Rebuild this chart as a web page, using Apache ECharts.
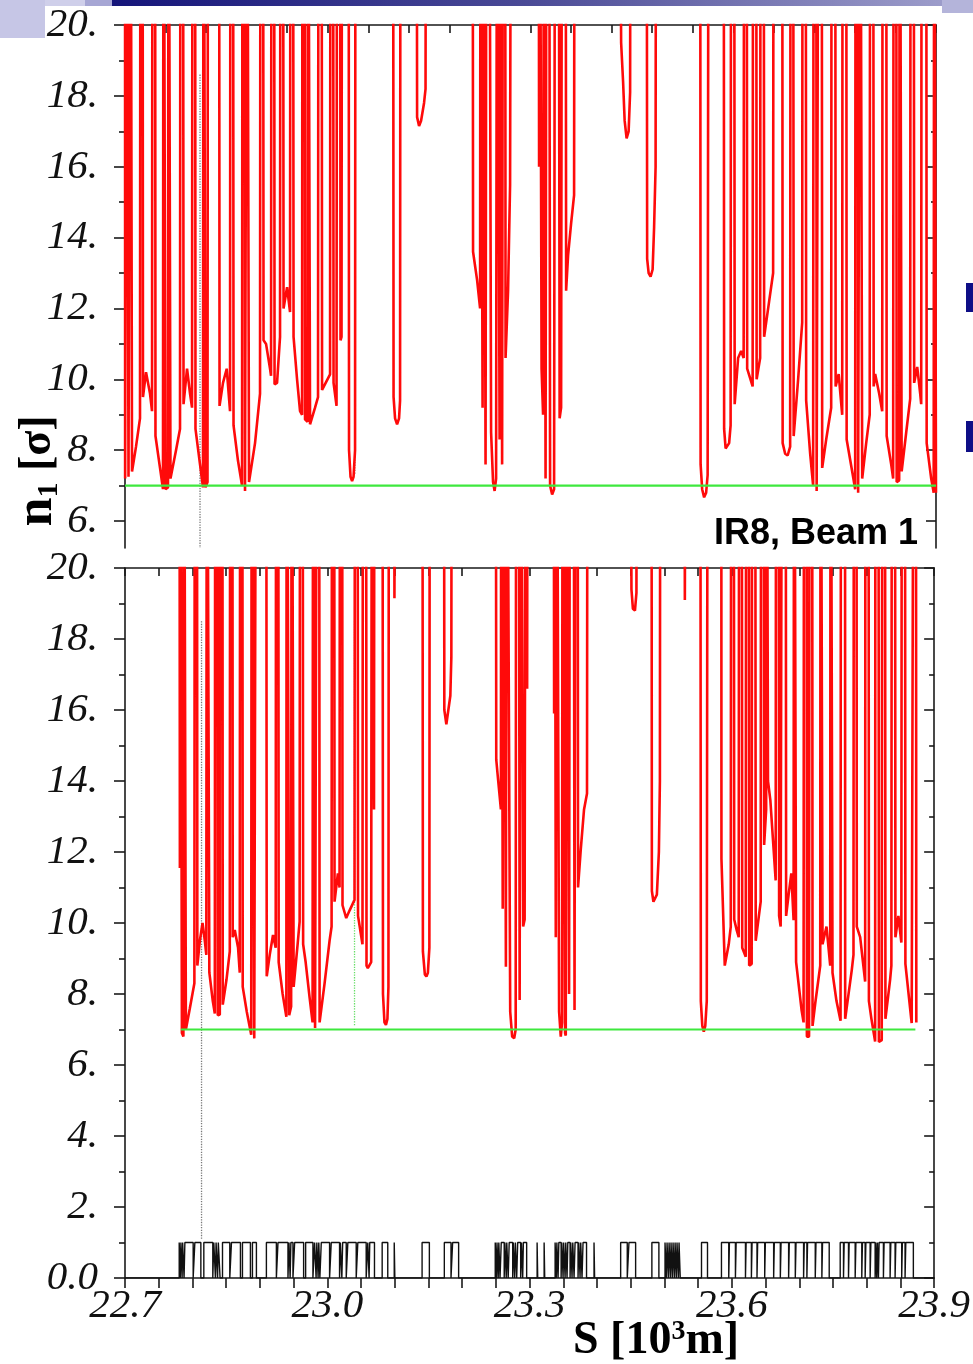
<!DOCTYPE html>
<html>
<head>
<meta charset="utf-8">
<script src="https://cdn.jsdelivr.net/npm/echarts@6/dist/echarts.min.js"></script>
<style>
  html, body { margin: 0; padding: 0; background: #fff; }
  #chart { width: 973px; height: 1364px; }
</style>
</head>
<body>
<div id="chart"></div>
<script>
// n1 aperture along S [10^3 m], values in sigma; 30 = off the top of the plot
const apertureTop = [
  [22.7000,30],[22.7002,7.2],[22.7015,7.2],[22.7022,30],[22.7044,30],[22.7052,7.25],[22.7074,7.3],[22.7081,30],[22.7096,30],[22.7104,7.4],
  [22.7163,8.1],[22.7222,8.9],[22.7229,30],[22.7259,30],[22.7266,9.5],[22.7311,10.2],[22.7370,9.6],[22.7400,9.1],[22.7407,30],[22.7444,30],
  [22.7451,8.4],[22.7518,7.5],[22.7562,6.9],[22.7570,30],[22.7592,30],[22.7599,6.9],[22.7636,6.95],[22.7644,30],[22.7666,30],[22.7673,7.2],
  [22.7755,8.0],[22.7814,8.6],[22.7821,30],[22.7858,30],[22.7866,9.3],[22.7918,10.3],[22.7962,9.6],[22.7992,9.2],[22.7999,30],[22.8036,30],
  [22.8043,8.6],[22.8110,7.6],[22.8154,6.95],[22.8162,30],[22.8184,30],[22.8191,6.95],[22.8221,7.1],[22.8228,30],[22.8391,30],[22.8399,9.25],
  [22.8450,9.9],[22.8505,10.3],[22.8554,9.1],[22.8561,30],[22.8598,30],[22.8606,8.7],[22.8672,7.7],[22.8732,7.0],[22.8739,30],[22.8769,30],
  [22.8776,6.85],[22.8798,6.9],[22.8806,30],[22.8828,30],[22.8835,7.1],[22.8924,8.2],[22.8998,9.6],[22.9005,30],[22.9042,30],[22.9050,11.1],
  [22.9087,11.0],[22.9146,10.3],[22.9161,10.1],[22.9168,30],[22.9205,30],[22.9213,9.86],[22.9250,9.9],[22.9294,11.2],[22.9301,30],[22.9338,30],
  [22.9346,12.0],[22.9398,12.6],[22.9442,11.9],[22.9449,30],[22.9486,30],[22.9494,11.2],[22.9546,10.0],[22.9590,9.1],[22.9620,9.0],[22.9627,30],
  [22.9657,30],[22.9664,8.87],[22.9701,8.8],[22.9708,30],[22.9731,30],[22.9738,8.73],[22.9812,9.2],[22.9856,9.5],[22.9864,30],[22.9908,30],
  [22.9916,9.7],[23.0034,10.14],[23.0041,30],[23.0078,30],[23.0086,9.9],[23.0130,9.25],[23.0138,30],[23.0182,30],[23.0189,11.1],[23.0204,11.2],
  [23.0212,30],
  [23.0308,30],[23.0315,8.0],[23.0337,7.25],[23.0360,7.13],[23.0382,7.25],[23.0404,8.0],[23.0411,30],
  [23.0966,30],[23.0974,9.5],[23.0996,8.9],[23.1026,8.73],[23.1055,8.9],[23.1070,9.4],[23.1077,30],
  [23.1314,30],[23.1322,17.4],[23.1351,17.15],[23.1381,17.3],[23.1425,17.8],[23.1447,18.2],[23.1455,30],
  [23.2143,30],[23.2150,13.6],[23.2210,12.8],[23.2254,12.0],[23.2261,30],[23.2284,30],[23.2291,9.2],[23.2306,30],[23.2321,30],[23.2335,7.6],
  [23.2350,30],[23.2387,30],[23.2417,8.5],[23.2446,7.1],[23.2469,6.85],[23.2491,7.2],[23.2506,30],[23.2535,30],[23.2543,8.3],[23.2557,30],
  [23.2572,30],[23.2580,7.6],[23.2594,30],[23.2624,30],[23.2631,10.6],[23.2668,12.5],[23.2698,15.5],[23.2713,30],
  [23.3120,30],[23.3127,16.0],[23.3135,30],[23.3157,30],[23.3164,10.3],[23.3186,9.0],[23.3201,30],[23.3216,30],[23.3223,7.2],[23.3238,30],
  [23.3275,30],[23.3290,7.0],[23.3320,6.75],[23.3349,6.9],[23.3364,30],[23.3416,30],[23.3431,8.9],[23.3453,9.2],[23.3468,30],[23.3519,30],
  [23.3527,12.5],[23.3556,13.5],[23.3601,14.4],[23.3645,15.2],[23.3653,30],
  [23.4311,30],[23.4341,19.5],[23.4370,18.4],[23.4393,17.3],[23.4422,16.8],[23.4452,17.0],[23.4474,18.1],[23.4481,30],
  [23.4718,30],[23.4726,13.4],[23.4748,13.0],[23.4777,12.9],[23.4807,13.1],[23.4829,14.3],[23.4851,16.0],[23.4859,30],
  [23.5510,30],[23.5517,7.6],[23.5540,6.9],[23.5569,6.67],[23.5599,6.8],[23.5621,7.3],[23.5636,30],
  [23.5858,30],[23.5865,8.6],[23.5887,8.05],[23.5910,8.0],[23.5939,8.2],[23.5961,8.7],[23.5969,30],[23.6013,30],[23.6021,9.3],[23.6072,10.6],
  [23.6117,10.8],[23.6154,10.6],[23.6161,30],[23.6198,30],[23.6206,10.3],[23.6287,9.8],[23.6294,30],[23.6339,30],[23.6346,10.0],[23.6398,10.6],
  [23.6405,30],[23.6450,30],[23.6457,11.2],[23.6531,12.2],[23.6590,13.0],[23.6598,30],[23.6724,30],[23.6731,8.2],[23.6768,7.9],[23.6805,7.85],
  [23.6842,8.1],[23.6849,30],[23.6886,30],[23.6894,8.4],[23.6960,10.0],[23.7020,11.6],[23.7027,30],[23.7071,30],[23.7079,9.4],[23.7138,7.9],
  [23.7182,7.0],[23.7190,30],[23.7227,30],[23.7234,6.85],[23.7256,6.9],[23.7264,30],[23.7308,30],[23.7316,7.5],[23.7375,8.3],[23.7449,9.2],
  [23.7456,30],[23.7508,30],[23.7515,9.8],[23.7560,10.15],[23.7612,9.0],[23.7619,30],[23.7671,30],[23.7678,8.3],[23.7760,7.4],[23.7804,6.9],
  [23.7811,30],[23.7841,30],[23.7848,6.8],[23.7871,6.85],[23.7878,30],[23.7900,30],[23.7908,7.2],[23.7967,8.2],[23.8019,9.0],[23.8026,30],
  [23.8070,30],[23.8078,9.8],[23.8100,10.15],[23.8159,9.6],[23.8204,9.1],[23.8211,30],[23.8263,30],[23.8270,8.4],[23.8337,7.6],[23.8366,7.2],
  [23.8374,30],[23.8411,30],[23.8418,7.1],[23.8455,7.15],[23.8463,30],[23.8485,30],[23.8492,7.4],[23.8559,8.5],[23.8618,9.45],[23.8625,30],
  [23.8670,30],[23.8677,9.9],[23.8722,10.35],[23.8766,9.6],[23.8781,9.3],[23.8788,30],[23.8855,30],[23.8862,8.2],[23.8929,7.2],[23.8966,6.8],
  [23.8973,30],[23.8995,30],[23.9000,6.8]
];

const apertureBottom = [
  [22.7807,30],[22.7814,11.55],[22.7821,30],[22.7836,30],[22.7844,6.9],[22.7866,6.8],[22.7873,30],[22.7895,30],[22.7903,7.0],[22.7962,7.6],
  [22.8029,8.3],[22.8036,30],[22.8066,30],[22.8073,8.8],[22.8110,9.5],[22.8150,10.0],[22.8184,9.5],[22.8206,9.1],[22.8214,30],[22.8243,30],
  [22.8251,8.6],[22.8302,7.8],[22.8332,7.45],[22.8339,30],[22.8369,30],[22.8376,7.4],[22.8406,7.42],[22.8413,30],[22.8443,30],[22.8450,7.7],
  [22.8505,8.4],[22.8554,9.2],[22.8561,30],[22.8591,30],[22.8598,9.6],[22.8628,9.8],[22.8677,9.3],[22.8702,8.6],[22.8709,30],[22.8739,30],
  [22.8746,8.2],[22.8806,7.5],[22.8872,6.85],[22.8880,30],[22.8909,30],[22.8917,6.75],[22.8939,6.8],[22.8946,30],[22.9094,30],[22.9102,8.5],
  [22.9146,9.1],[22.9195,9.66],[22.9235,9.3],[22.9242,30],[22.9272,30],[22.9279,8.9],[22.9338,8.0],[22.9393,7.36],[22.9398,30],[22.9427,30],
  [22.9435,7.4],[22.9464,7.65],[22.9472,30],[22.9494,30],[22.9501,8.2],[22.9560,9.4],[22.9590,10.04],[22.9597,30],[22.9634,30],[22.9642,9.4],
  [22.9679,8.9],[22.9738,7.9],[22.9782,7.2],[22.9790,30],[22.9812,30],[22.9819,7.04],[22.9842,7.05],[22.9849,30],[22.9879,30],[22.9886,7.2],
  [22.9960,8.3],[23.0034,9.5],[23.0064,9.9],[23.0071,30],[23.0101,30],[23.0108,10.6],[23.0157,11.4],[23.0182,11.0],[23.0189,30],[23.0219,30],
  [23.0226,10.5],[23.0281,10.14],[23.0330,10.35],[23.0404,10.65],[23.0411,30],[23.0448,30],[23.0456,10.2],[23.0522,9.4],[23.0530,30],[23.0574,30],
  [23.0582,8.8],[23.0601,8.73],[23.0651,8.9],[23.0663,30],[23.0685,30],[23.0693,13.2],[23.0700,30],
  [23.0818,30],[23.0826,8.0],[23.0848,7.2],[23.0870,7.13],[23.0892,7.3],[23.0907,8.2],[23.0915,30],
  [23.0989,30],[23.0996,19.15],[23.1011,30],
  [23.1410,30],[23.1418,9.2],[23.1447,8.55],[23.1470,8.49],[23.1492,8.6],[23.1514,9.3],[23.1521,30],
  [23.1729,30],[23.1736,16.0],[23.1766,15.6],[23.1795,15.65],[23.1825,16.4],[23.1840,17.5],[23.1847,30],
  [23.2498,30],[23.2506,14.6],[23.2535,14.0],[23.2575,13.2],[23.2580,30],[23.2594,30],[23.2602,10.4],[23.2617,30],[23.2639,30],[23.2649,8.77],
  [23.2661,30],[23.2683,30],[23.2713,7.5],[23.2742,6.8],[23.2772,6.75],[23.2794,7.0],[23.2802,30],[23.2839,30],[23.2853,7.83],[23.2868,30],
  [23.2890,30],[23.2905,9.9],[23.2927,10.1],[23.2942,30],[23.2957,30],[23.2964,16.6],[23.2972,30],
  [23.3357,30],[23.3364,15.9],[23.3371,30],[23.3379,30],[23.3389,9.6],[23.3401,30],[23.3423,30],[23.3438,7.5],[23.3463,6.8],[23.3482,7.2],
  [23.3490,30],[23.3512,30],[23.3527,6.9],[23.3537,6.83],[23.3549,30],[23.3571,30],[23.3586,8.0],[23.3601,30],[23.3653,30],[23.3667,7.55],
  [23.3682,30],[23.3712,30],[23.3719,11.0],[23.3759,12.06],[23.3808,13.2],[23.3852,13.65],[23.3860,30],
  [23.4496,30],[23.4511,19.4],[23.4533,18.85],[23.4563,18.8],[23.4585,19.3],[23.4592,30],
  [23.4807,30],[23.4814,10.9],[23.4837,10.6],[23.4859,10.55],[23.4888,10.8],[23.4918,12.0],[23.4933,14.0],[23.4940,30],
  [23.5295,30],[23.5303,19.1],[23.5318,30],
  [23.5532,30],[23.5540,7.8],[23.5562,7.1],[23.5584,6.94],[23.5606,7.1],[23.5628,7.8],[23.5643,30],
  [23.5843,30],[23.5846,11.8],[23.5895,8.8],[23.5954,9.4],[23.5984,9.9],[23.5991,30],[23.6028,30],[23.6035,10.1],[23.6072,9.8],[23.6102,9.6],
  [23.6109,30],[23.6146,30],[23.6154,9.3],[23.6206,9.05],[23.6213,30],[23.6250,30],[23.6257,8.8],[23.6275,8.77],[23.6294,8.85],[23.6302,30],
  [23.6346,30],[23.6354,9.5],[23.6428,10.6],[23.6435,30],[23.6472,30],[23.6479,12.2],[23.6509,13.2],[23.6516,30],[23.6531,30],[23.6536,14.0],
  [23.6571,13.46],[23.6620,12.06],[23.6650,11.2],[23.6657,30],[23.6694,30],[23.6701,10.2],[23.6724,9.9],[23.6738,9.9],[23.6746,30],[23.6798,30],
  [23.6805,10.2],[23.6842,10.8],[23.6882,11.4],[23.6916,10.08],[23.6923,30],[23.6946,30],[23.6953,8.9],[23.7034,7.55],[23.7064,7.2],[23.7071,30],
  [23.7108,30],[23.7113,6.8],[23.7145,6.8],[23.7153,30],[23.7190,30],[23.7197,7.1],[23.7237,7.74],[23.7311,8.8],[23.7316,30],[23.7338,30],
  [23.7345,9.4],[23.7404,9.9],[23.7459,8.8],[23.7464,30],[23.7486,30],[23.7493,8.6],[23.7552,7.8],[23.7612,7.25],[23.7619,30],[23.7678,30],
  [23.7681,7.3],[23.7779,8.68],[23.7804,9.1],[23.7811,30],[23.7848,30],[23.7853,9.9],[23.7903,9.6],[23.7977,8.35],[23.7982,30],[23.8026,30],
  [23.8033,7.8],[23.8070,7.3],[23.8125,6.66],[23.8130,30],[23.8174,30],[23.8181,6.65],[23.8223,6.7],[23.8233,30],[23.8270,30],[23.8278,7.3],
  [23.8347,8.4],[23.8366,8.8],[23.8374,30],[23.8418,30],[23.8426,9.6],[23.8470,10.2],[23.8514,9.45],[23.8522,30],[23.8566,30],[23.8574,8.85],
  [23.8667,7.18],[23.8692,7.2],[23.8699,30],[23.8729,30],[23.8736,7.2]
];

// magnet slots [start, end] shown as unit pulses along the bottom axis
const magnetSlots = [
  [22.7804,22.7820],[22.7829,22.7847],[22.7855,22.7876],[22.7888,22.8011],[22.8036,22.8125],[22.8169,22.8302],[22.8317,22.8341],
  [22.8351,22.8373],[22.8384,22.8410],[22.8446,22.8554],[22.8579,22.8712],[22.8742,22.8860],[22.8890,22.8949],
  [22.9097,22.9245],[22.9269,22.9417],[22.9432,22.9449],[22.9460,22.9491],[22.9516,22.9649],[22.9679,22.9787],[22.9812,22.9834],
  [22.9845,22.9864],[22.9874,22.9890],[22.9911,23.0034],[23.0059,23.0182],[23.0194,23.0216],[23.0228,23.0281],[23.0305,23.0429],
  [23.0453,23.0577],[23.0601,23.0620],[23.0630,23.0700],[23.0814,23.0897],[23.0993,23.1002],[23.1406,23.1514],[23.1736,23.1835],
  [23.1859,23.1948],
  [23.2491,23.2509],[23.2517,23.2535],[23.2544,23.2562],[23.2580,23.2624],[23.2634,23.2654],[23.2662,23.2683],[23.2698,23.2750],
  [23.2760,23.2779],[23.2790,23.2809],[23.2824,23.2868],[23.2880,23.2898],[23.2908,23.2957],[23.3112,23.3121],[23.3216,23.3225],
  [23.3379,23.3397],[23.3405,23.3423],[23.3434,23.3468],[23.3478,23.3497],[23.3506,23.3527],[23.3537,23.3556],[23.3567,23.3601],
  [23.3611,23.3630],[23.3641,23.3660],[23.3675,23.3719],[23.3730,23.3749],[23.3759,23.3778],[23.3793,23.3845],[23.3956,23.3965],
  [23.4351,23.4449],[23.4474,23.4573],[23.4814,23.4918],
  [23.5009,23.5030],[23.5039,23.5060],[23.5069,23.5090],[23.5098,23.5119],[23.5128,23.5149],[23.5158,23.5178],[23.5187,23.5208],
  [23.5217,23.5235],[23.5550,23.5639],
  [23.5846,23.5954],[23.5964,23.6053],[23.6064,23.6202],[23.6212,23.6290],[23.6300,23.6373],[23.6383,23.6487],[23.6497,23.6620],
  [23.6630,23.6719],[23.6730,23.6842],[23.6852,23.6941],[23.6952,23.7064],[23.7074,23.7113],[23.7123,23.7237],[23.7248,23.7335],
  [23.7345,23.7444],
  [23.7607,23.7656],[23.7666,23.7730],[23.7740,23.7829],[23.7840,23.7927],[23.7937,23.7977],[23.7988,23.8051],[23.8062,23.8125],
  [23.8134,23.8149],[23.8159,23.8174],[23.8184,23.8248],[23.8258,23.8347],[23.8358,23.8421],[23.8432,23.8519],[23.8529,23.8569],
  [23.8580,23.8692]
];

// 7 sigma limit lines
const limitTop = [[22.7, 7], [23.9, 7]];
const limitBottom = [[22.7829, 7], [23.8722, 7]];

// dotted guide lines
const guideGrayTop = [[22.8110, 18.6], [22.8110, 5.24]];
const guidePinkTop = [[23.0404, 18.6], [23.0404, 7.3]];
const guideGrayBottom = [[22.8135, 18.5], [22.8135, 1.1]];
const guidePinkBottom = [[23.0404, 18.5], [23.0404, 10.7]];
const guideGreenBottom = [[23.0404, 10.6], [23.0404, 7.1]];

// tick labels
const xLabels = [22.7, 23.0, 23.3, 23.6, 23.9];
const yLabelsTop = [6, 8, 10, 12, 14, 16, 18, 20];
const yLabelsBottom = [0, 2, 4, 6, 8, 10, 12, 14, 16, 18, 20];
const topPanelXTicks = [22.70, 22.76, 22.82, 22.88, 22.94, 23.00, 23.06, 23.12, 23.18, 23.24, 23.30,
  23.36, 23.42, 23.48, 23.54, 23.60, 23.66, 23.72, 23.78, 23.84, 23.90];

function steps(a, b, d) {
  let out = [];
  for (let v = a; v <= b + 1e-9; v += d) out.push(Math.round(v * 1000) / 1000);
  return out;
}
const bottomXTicks = steps(22.7, 23.9, 0.05);
const oddTop = steps(7, 19, 2);
const oddBottom = steps(1, 19, 2);

let magnetLine = [[22.7, 0]];
magnetSlots.forEach(function (m) {
  magnetLine.push([m[0], 0], [m[0], 1], [m[1], 1], [m[1], 0]);
});
magnetLine.push([23.9, 0]);

const ink = '#1a1a1a';
const labelStyle = {
  fontFamily: 'Liberation Serif', fontStyle: 'italic', fontSize: 41, color: '#111'
};

function fmtY(v) {
  return v === 0 ? '0.0' : v + '.';
}

// four y axes per panel: left major/minor, right major/minor
function yAxesFor(grid, min, labels, odd) {
  return [
    {
      gridIndex: grid, type: 'value', position: 'left', min: min, max: 20,
      axisLine: { show: true, lineStyle: { color: ink, width: 1.6 } },
      axisTick: { show: true, customValues: labels, length: 11, lineStyle: { color: ink, width: 1.6 } },
      axisLabel: Object.assign({ customValues: labels, margin: 27, formatter: fmtY }, labelStyle),
      splitLine: { show: false }
    },
    {
      gridIndex: grid, type: 'value', position: 'left', min: min, max: 20,
      axisLine: { show: false },
      axisTick: { show: true, customValues: odd, length: 6, lineStyle: { color: ink, width: 1.6 } },
      axisLabel: { show: false }, splitLine: { show: false }
    },
    {
      gridIndex: grid, type: 'value', position: 'right', min: min, max: 20,
      axisLine: { show: true, lineStyle: { color: ink, width: 1.6 } },
      axisTick: { show: true, inside: true, customValues: labels, length: 10, lineStyle: { color: ink, width: 1.6 } },
      axisLabel: { show: false }, splitLine: { show: false }
    },
    {
      gridIndex: grid, type: 'value', position: 'right', min: min, max: 20,
      axisLine: { show: false },
      axisTick: { show: true, inside: true, customValues: odd, length: 5, lineStyle: { color: ink, width: 1.6 } },
      axisLabel: { show: false }, splitLine: { show: false }
    }
  ];
}

function lineSeries(data, xi, yi, color, width, extra) {
  return Object.assign({
    type: 'line', data: data, xAxisIndex: xi, yAxisIndex: yi,
    showSymbol: false, symbol: 'none', clip: true, silent: true,
    lineStyle: { color: color, width: width }
  }, extra || {});
}

const chart = echarts.init(document.getElementById('chart'), null, { renderer: 'canvas' });

chart.setOption({
  animation: false,
  backgroundColor: '#ffffff',
  grid: [
    { left: 125, width: 811, top: 25, height: 523 },
    { left: 125, width: 811, top: 568, height: 710 }
  ],
  xAxis: [
    {
      gridIndex: 0, type: 'value', position: 'top', min: 22.7, max: 23.9,
      axisLine: { show: true, lineStyle: { color: ink, width: 1.6 } },
      axisTick: { show: true, inside: true, customValues: topPanelXTicks, length: 8, lineStyle: { color: ink, width: 1.6 } },
      axisLabel: { show: false }, splitLine: { show: false }
    },
    {
      gridIndex: 1, type: 'value', position: 'bottom', min: 22.7, max: 23.9,
      axisLine: { show: true, onZero: false, lineStyle: { color: ink, width: 1.6 } },
      axisTick: { show: true, customValues: bottomXTicks, length: 10, lineStyle: { color: ink, width: 1.6 } },
      axisLabel: Object.assign({
        customValues: xLabels, margin: 8,
        formatter: function (v) { return v.toFixed(1); }
      }, labelStyle),
      splitLine: { show: false }
    },
    {
      gridIndex: 1, type: 'value', position: 'top', min: 22.7, max: 23.9,
      axisLine: { show: true, onZero: false, lineStyle: { color: ink, width: 1.6 } },
      axisTick: { show: true, inside: true, customValues: bottomXTicks, length: 8, lineStyle: { color: ink, width: 1.6 } },
      axisLabel: { show: false }, splitLine: { show: false }
    }
  ],
  yAxis: yAxesFor(0, 5.24, yLabelsTop, oddTop).concat(yAxesFor(1, 0, yLabelsBottom, oddBottom)),
  series: [
    lineSeries(guideGrayTop, 0, 0, '#7a7a7a', 1.3, { lineStyle: { color: '#7a7a7a', width: 1.3, type: 'dotted' } }),
    lineSeries(guidePinkTop, 0, 0, '#d88a8a', 1.3, { lineStyle: { color: '#d88a8a', width: 1.3, type: 'dotted' } }),
    lineSeries(apertureTop, 0, 0, '#ff0a0a', 2.6),
    lineSeries(limitTop, 0, 0, '#3ee83e', 2.2),
    lineSeries(guideGrayBottom, 1, 4, '#7a7a7a', 1.3, { lineStyle: { color: '#7a7a7a', width: 1.3, type: 'dotted' } }),
    lineSeries(guidePinkBottom, 1, 4, '#c8a0a0', 1.3, { lineStyle: { color: '#c8a0a0', width: 1.3, type: 'dotted' } }),
    lineSeries(guideGreenBottom, 1, 4, '#66dd66', 1.3, { lineStyle: { color: '#66dd66', width: 1.3, type: 'dotted' } }),
    lineSeries(apertureBottom, 1, 4, '#ff0a0a', 2.6),
    lineSeries(limitBottom, 1, 4, '#3ee83e', 2.2),
    lineSeries(magnetLine, 1, 4, '#111111', 1.4)
  ],
  graphic: [
    // slide frame decoration
    { type: 'rect', shape: { x: 0, y: 0, width: 45, height: 38 }, style: { fill: '#c6c6e6' }, silent: true },
    { type: 'rect', shape: { x: 45, y: 0, width: 40, height: 6 }, style: { fill: '#cfcfea' }, silent: true },
    { type: 'rect', shape: { x: 85, y: 0, width: 27, height: 6 }, style: { fill: '#a6a6d4' }, silent: true },
    {
      type: 'rect', shape: { x: 112, y: 0, width: 830, height: 6 }, silent: true,
      style: { fill: new echarts.graphic.LinearGradient(0, 0, 1, 0, [
        { offset: 0, color: '#15157a' }, { offset: 0.5, color: '#4a4a96' }, { offset: 1, color: '#9c9cca' }
      ]) }
    },
    { type: 'rect', shape: { x: 942, y: 0, width: 31, height: 13 }, style: { fill: '#b4b4da' }, silent: true },
    { type: 'rect', shape: { x: 966, y: 283, width: 7, height: 29 }, style: { fill: '#0e0e86' }, silent: true },
    { type: 'rect', shape: { x: 966, y: 421, width: 7, height: 31 }, style: { fill: '#0e0e86' }, silent: true },
    {
      type: 'text', x: 918, y: 534, silent: true,
      style: {
        text: 'IR8, Beam 1', fill: '#000',
        font: 'bold 36px "Liberation Sans"',
        textAlign: 'right', textVerticalAlign: 'middle', align: 'right', verticalAlign: 'middle'
      }
    },
    {
      type: 'text', x: 38, y: 471, rotation: Math.PI / 2, silent: true,
      style: {
        text: '{n|n}{s|1}{b| [σ]}', fill: '#000',
        textAlign: 'center', textVerticalAlign: 'middle', align: 'center', verticalAlign: 'middle',
        rich: {
          n: { fontFamily: 'Liberation Serif', fontWeight: 'bold', fontSize: 52, fill: '#000' },
          s: { fontFamily: 'Liberation Serif', fontWeight: 'bold', fontSize: 30, verticalAlign: 'bottom', fill: '#000' },
          b: { fontFamily: 'Liberation Serif', fontWeight: 'bold', fontSize: 46, fill: '#000' }
        }
      }
    },
    {
      type: 'text', x: 656, y: 1341, silent: true,
      style: {
        text: '{a|S [10}{p|3}{a|m]}', fill: '#000',
        textAlign: 'center', textVerticalAlign: 'middle', align: 'center', verticalAlign: 'middle',
        rich: {
          a: { fontFamily: 'Liberation Serif', fontWeight: 'bold', fontSize: 46, fill: '#000' },
          p: { fontFamily: 'Liberation Serif', fontWeight: 'bold', fontSize: 28, verticalAlign: 'top', fill: '#000' }
        }
      }
    }
  ]
});
</script>
</body>
</html>
